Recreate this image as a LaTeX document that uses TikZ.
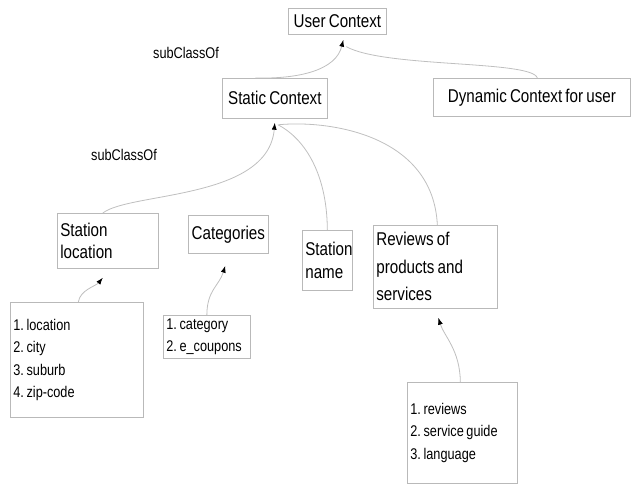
\documentclass[tikz,border=0pt]{standalone}
\usepackage{fontspec}
\setmainfont{Liberation Sans}[FakeStretch=0.82,WordSpace=0.75]
\usetikzlibrary{arrows.meta}
\frenchspacing
\tikzset{
  box/.style={draw=gray!55, line width=0.7pt, inner sep=0pt, font=\fontsize{18.5}{22.5}\selectfont},
  cbox/.style={box, align=center, anchor=north west},
  lbox/.style={box, align=flush left, anchor=north west, inner xsep=3pt},
  item/.style={box, align=flush left, anchor=north west, inner xsep=3pt, font=\fontsize{15.5}{22.5}\selectfont},
  lab/.style={font=\fontsize{15.5}{18}\selectfont, inner sep=0pt},
  link/.style={draw=gray!50, line width=0.8pt},
  tip/.style={-{Latex[length=7pt,width=5pt,black]}},
}
\begin{document}
\begin{tikzpicture}[x=1pt,y=-1pt]
\useasboundingbox (0,0) rectangle (635,488);
% boxes
\node[cbox, minimum width=98, minimum height=26] (uc) at (288,8) {User Context};
\node[cbox, minimum width=105, minimum height=40] (sc) at (222,78) {Static Context};
\node[cbox, minimum width=197, minimum height=38] (dc) at (433,78) {Dynamic Context for user};
\node[lbox, text width=95, minimum height=55] (sl) at (57,213) {Station\\location};
\node[cbox, minimum width=80, minimum height=38] (cat) at (188,215) {Categories};
\node[lbox, text width=44, minimum height=60] (sn) at (302,230) {Station\\name};
\node[lbox, text width=118, minimum height=83, font=\fontsize{18.5}{27.5}\selectfont] (rv) at (373,225) {Reviews of\\products and\\services};
\node[item, text width=127, minimum height=115] (l1) at (10,302) {1. location\\2. city\\3. suburb\\4. zip-code\\[6pt]};
\node[item, text width=81, minimum height=43] (l2) at (163,315) {1. category\\2. e\_coupons};
\node[item, text width=104, minimum height=101] (l3) at (407,382) {1. reviews\\2. service guide\\3. language\\[4pt]};
% labels
\node[lab] (lab1) at (186,53) {subClassOf};
\node[lab] (lab2) at (124,155) {subClassOf};
% connectors
\draw[link, tip] ([xshift=-19.5]sc.north) .. controls (300,79) and (336,70) .. ([xshift=6,yshift=-5]uc.south);
\draw[link] ([xshift=5.5]dc.north) .. controls (532,60) and (385,68) .. ([xshift=9,yshift=-12]uc.south);
\draw[link, tip] ([xshift=-5]sl.north) .. controls (130,192) and (268,200) .. ([yshift=-4]sc.south);
\draw[link] (sn.north) .. controls (327,170) and (302,137) .. ([xshift=3,yshift=-6]sc.south);
\draw[link] ([xshift=2]rv.north) .. controls (433,135) and (330,120) .. ([xshift=4,yshift=-6]sc.south);
\draw[link, tip] ([xshift=1.5]l1.north) .. controls (80,290) and (96,286) .. ([xshift=-5,yshift=-9]sl.south);
\draw[link, tip] (l2.north) .. controls (207,290) and (219,286) .. ([xshift=-3,yshift=-12]cat.south);
\draw[link, tip] ([xshift=-2]l3.north) .. controls (460,350) and (444,336) .. ([xshift=3,yshift=-9]rv.south);
\end{tikzpicture}
\end{document}
